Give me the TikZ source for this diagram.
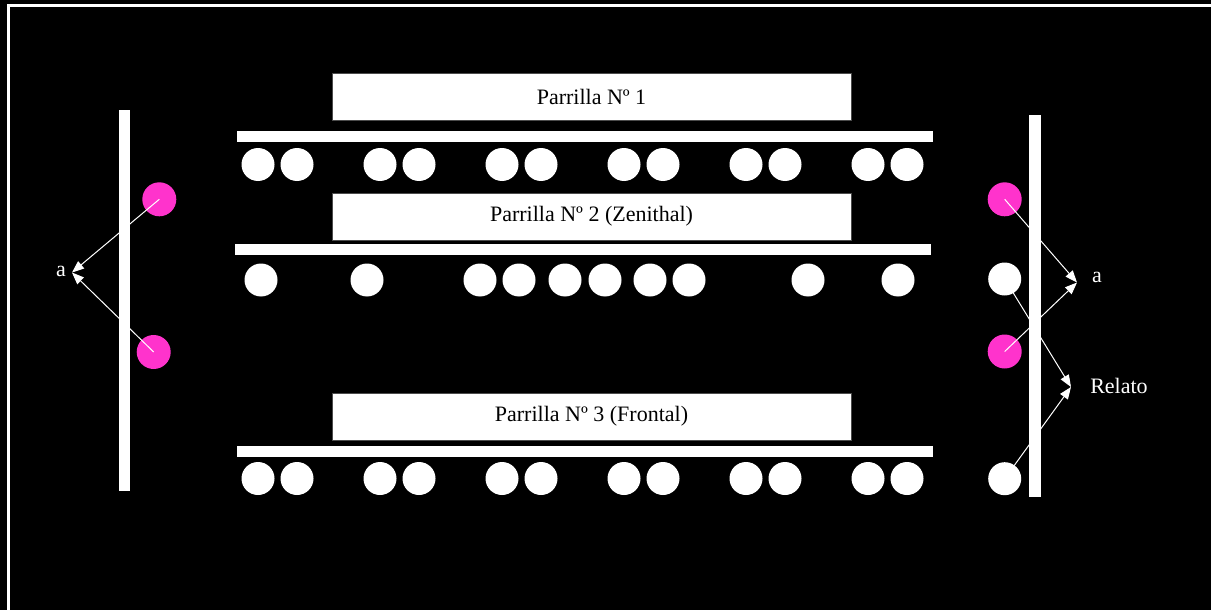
\documentclass[tikz,border=0pt]{standalone}
\usepackage{fontspec}
\setmainfont{Liberation Serif}
\usetikzlibrary{arrows.meta}
\definecolor{lampPink}{RGB}{255,51,204}
\tikzset{
  lamp/.style={circle, fill=white, inner sep=0pt, minimum size=24.75pt},
  pinklamp/.style={lamp, fill=lampPink, minimum size=25.5pt},
  gridbox/.style={rectangle, fill=white, draw=black!70, line width=0.4pt, inner sep=0pt,
    minimum width=389.25pt, minimum height=35.25pt, text=black, font=\fontsize{16.5}{20}\selectfont},
  rail/.style={fill=white},
  ray/.style={draw=white, line width=0.75pt, -{Triangle[length=9pt,width=7pt]}},
  lbl/.style={text=white, inner sep=0pt, font=\fontsize{16.5}{20}\selectfont},
}

\begin{document}
\begin{tikzpicture}[x=0.75pt,y=0.75pt,yscale=-1,xscale=1]
\useasboundingbox (0,0) rectangle (1211,610);
\fill [black] (0,0) rectangle (1211,610);
\clip (0,0) rectangle (1211,610);

%Shape: Frame
\draw [white, line width=2.4pt] (8.3,5.7) rectangle (1220,618);

%Lamps: row 1
\node [lamp] (r1a) at (258,164.5) {};
\node [lamp] (r1b) at (297,164.5) {};
\node [lamp] (r1c) at (380,164.5) {};
\node [lamp] (r1d) at (419,164.5) {};
\node [lamp] (r1e) at (502,164.5) {};
\node [lamp] (r1f) at (541,164.5) {};
\node [lamp] (r1g) at (624,164.5) {};
\node [lamp] (r1h) at (663,164.5) {};
\node [lamp] (r1i) at (746,164.5) {};
\node [lamp] (r1j) at (785,164.5) {};
\node [lamp] (r1k) at (868,164.5) {};
\node [lamp] (r1l) at (907,164.5) {};
%Lamps: row 2
\node [lamp] (r2a) at (261,280) {};
\node [lamp] (r2b) at (367,280) {};
\node [lamp] (r2c) at (480,280) {};
\node [lamp] (r2d) at (519,280) {};
\node [lamp] (r2e) at (565,280) {};
\node [lamp] (r2f) at (605,280) {};
\node [lamp] (r2g) at (650,280) {};
\node [lamp] (r2h) at (689,280) {};
\node [lamp] (r2i) at (808,280) {};
\node [lamp] (r2j) at (898,280) {};
%Lamps: row 3
\node [lamp] (r3a) at (258,478.5) {};
\node [lamp] (r3b) at (297,478.5) {};
\node [lamp] (r3c) at (380,478.5) {};
\node [lamp] (r3d) at (419,478.5) {};
\node [lamp] (r3e) at (502,478.5) {};
\node [lamp] (r3f) at (541,478.5) {};
\node [lamp] (r3g) at (624,478.5) {};
\node [lamp] (r3h) at (663,478.5) {};
\node [lamp] (r3i) at (746,478.5) {};
\node [lamp] (r3j) at (785,478.5) {};
\node [lamp] (r3k) at (868,478.5) {};
\node [lamp] (r3l) at (907,478.5) {};

%Lamps: left side
\node [pinklamp] (left1) at (159.3,199.3) {};
\node [pinklamp] (left2) at (153.7,352) {};
%Lamps: right side
\node [pinklamp] (right1) at (1004.7,199.3) {};
\node [lamp] (right2) at (1004.7,279) {};
\node [pinklamp] (right3) at (1004.7,351.5) {};
\node [lamp] (right4) at (1004.7,478.7) {};

% Text Node
\node [lbl] (aLeft) at (61,271) {a};
\node [lbl] (aRight) at (1097,277) {a};
\node [lbl] (relato) at (1119,386) {Relato};
\coordinate (aLeftTip) at (72,272.5);
\coordinate (aRightTip) at (1077,282.5);
\coordinate (relatoTip) at (1071,387);

%Straight Lines: rays
\draw [ray] (left1.center) -- (aLeftTip);
\draw [ray] (left2.center) -- (aLeftTip);
\draw [ray] (right1.center) -- (aRightTip);
\draw [ray] (right3.center) -- (aRightTip);
\draw [ray] (right2.center) -- (relatoTip);
\draw [ray] (right4.center) -- (relatoTip);

%Shape: Rails
\fill [rail] (119,110) rectangle (130,491);
\fill [rail] (1029,115) rectangle (1041,497);
\fill [rail] (237,131.5) rectangle (933,142.5);
\fill [rail] (235,243.5) rectangle (931,255);
\fill [rail] (237,446) rectangle (932.5,457);

%Shape: Grid boxes
\node [gridbox] (grid1) at (591.5,96.7) {Parrilla Nº 1};
\node [gridbox] (grid2) at (591.5,216.7) {Parrilla Nº 2 (Zenithal)};
\node [gridbox] (grid3) at (591.5,416.7) {Parrilla Nº 3 (Frontal)};

\end{tikzpicture}
\end{document}
